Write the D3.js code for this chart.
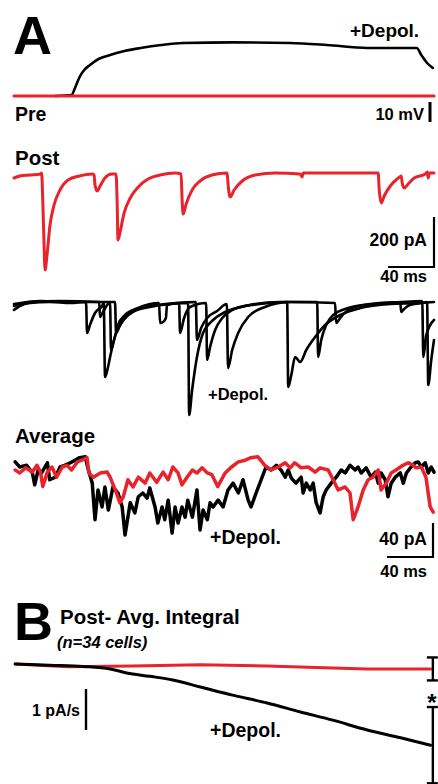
<!DOCTYPE html>
<html>
<head>
<meta charset="utf-8">
<script src="https://cdn.jsdelivr.net/npm/d3@7"></script>
<style>
  body { margin: 0; background: #fff; }
  text { font-family: "Liberation Sans", Arial, sans-serif; font-weight: bold; fill: #000; }
</style>
</head>
<body>
<div id="chart"></div>
<script>
// time in ms, pre in mV, currents in pA, integral in pA/s
var preRed = [[0,0],[365,0]];
var preBlack = [[36,0],[50,0.5],[53,4],[57,9.5],[61,13],[66,15.5],[73.5,18.5],[83.5,20.5],[96,22.5],[110,24],
  [128,25.5],[147,26.5],[190,26.8],[240,26.5],[272,25.5],[307,24],[350,24],[354,20.5],[359,16.5],[364,14]];

var postRed = [[0,-20],[5,-12],[14,-8],[23,-4],[24,0],[25,-108],[26,-268],[27,-388],[28.7,-328],[31.3,-208],
  [34.8,-128],[40,-68],[47,-28],[57,-12],[68,-4],[69.6,-8],[70.4,-48],[72.2,-72],[74.8,-52],[79,-20],[85,-4],
  [88.7,-4],[89.6,-108],[90.4,-268],[92.2,-236],[95.7,-160],[101,-100],[108,-56],[116.5,-24],[127,-8],[140,0],
  [145.2,-4],[146.1,-108],[147,-164],[149.6,-124],[154.8,-68],[161.7,-32],[172,-8],[185.2,0],[186.1,-48],
  [187.8,-96],[191.3,-68],[198.3,-32],[209.6,-8],[227,0],[248.7,-4],[250.4,-16],[251.3,0],[283.5,0],[316.5,0],
  [317.4,-68],[319.1,-120],[321.7,-92],[327,-52],[334,-20],[336.5,-12],[337.4,-40],[339.1,-60],[342.6,-44],
  [347.8,-20],[357.4,-4],[359.1,4],[360,-20],[360.9,0],[365,0]];

var postBlack1 = [[0,-32],[5,-16],[14,-4],[31,0],[49,-4],[62.6,0],[63.5,-124],[66,-92],[70.4,-44],[76.5,-16],
  [78,-4],[79.1,-300],[81.7,-260],[83.5,-220],[87.8,-136],[94.8,-72],[103.5,-40],[118,-20],[135.7,-8],[151.3,-4],
  [152.2,-452],[154.8,-352],[159,-220],[164.3,-124],[173,-72],[183.5,-40],[201,-16],[222.6,-4],[237.4,0],
  [238.3,-340],[241,-292],[244.3,-220],[248.7,-240],[254,-192],[261.7,-140],[270.4,-92],[283.5,-52],[301,-24],
  [327,-8],[353,-4],[359,0],[360,-332],[362.6,-232],[365,-152]];
var postBlack2 = [[0,-16],[14,0],[40,4],[74,0],[74.8,-60],[77.4,-40],[81.7,-8],[83.5,-4],[84.3,-192],[87,-152],
  [90.4,-92],[96.5,-52],[107.8,-24],[126,-4],[127,-84],[129.6,-80],[132,-64],[133,-12],[143.5,-4],[144.3,-124],
  [147.8,-64],[153,-20],[167,-4],[167.8,-232],[170.4,-180],[174.8,-112],[181,-64],[189.6,-32],[205,-12],[231,0],
  [263.5,0],[264.3,-220],[267,-152],[271.3,-92],[277.4,-52],[287.8,-28],[309.6,-8],[335.7,0],[354.8,4],
  [355.7,-220],[358.3,-132],[365,-72]];
var postBlack3 = [[0,-8],[22.6,4],[57.4,0],[87.8,0],[88.7,-124],[92.2,-92],[99,-52],[111,-24],[141,-4],[158,0],
  [159,-152],[162.6,-104],[167.8,-64],[176.5,-36],[185,-8],[186,-264],[189.6,-192],[194.8,-124],[203.5,-60],
  [218,-20],[240,0],[279,-4],[280,-84],[283.5,-64],[290.4,-32],[305,-12],[335.7,-4],[336.5,-40],[339,-28],
  [344,-12],[365,0]];

var avgRed = [[1,-3.5],[5,-7],[10,-1],[16,-6],[20,2],[23,-6],[25,-23],[29,-6],[33,0],[37,-12],[42,0],[46,2],
  [50,-3.5],[55,6],[59,8],[63.5,11],[65,-7],[69,-12],[75,-7],[81,-6],[83.5,-12],[88,-27],[92,-42],[95,-35],
  [99,-15],[103.5,-23.5],[108,-12],[114,-19],[118,-7],[124,-18],[129.6,-6],[134,-15],[138,0],[142.6,-7],
  [146,-21],[150.4,-12],[155,-3.5],[159,-7],[163.5,-1],[168,-7],[172,-9],[177,-23],[183.5,-7],[189,0],[195,6],
  [201,8],[206,11],[212,12],[218,2],[223.5,-3.5],[229.6,0],[235.7,5],[240,-1],[244,5],[249.6,-1],[255.7,0],
  [261.7,-6],[266,-1],[273,-3.5],[277.4,-15],[281.7,-27],[287.8,-23.5],[292,-30.6],[294.8,-62],[299,-47],
  [303.5,-27],[307.8,-15],[312,-12],[316.5,-3.5],[319,-27],[323.5,-19],[327.8,-7],[332,-3.5],[338,2],[342.6,5],
  [347,2],[349.6,-1],[354,0],[358,-12],[361.7,-47],[364.3,-53]];
var avgBlack = [[1,6],[5,0],[11,2],[16,-7],[18,-21],[21,-3.5],[24,-7],[29,5],[31,-15],[36,-12],[40,0],[44,2],
  [49,5],[53,8],[57,11],[62,12],[64,0],[68,-19],[70.4,-62],[73,-27],[76.5,-47],[79,-23.5],[82,-50.6],[86,-23.5],
  [90.4,-30.6],[94,-47],[96.5,-80],[101,-42],[105,-54],[108,-35],[112,-30.6],[115.7,-36.5],[118,-24.7],
  [122.6,-47],[125,-66],[128.7,-47],[131,-62],[134,-39],[137.4,-77.6],[140,-47],[142.6,-66],[146,-47],
  [148.7,-59],[151,-39],[155,-59],[159,-27],[161.7,-74],[164.3,-50.6],[168,-62],[170.4,-42],[173,-47],
  [177.4,-39],[181.7,-47],[186,-27],[190.4,-19],[195,-30.6],[199,-15],[203.5,-39],[206,-47],[210.4,-30.6],
  [214.8,-15],[219,0],[223.5,-3.5],[228,2],[232,-3.5],[235.7,-12],[238.3,-3.5],[241,-13],[245,-19],[249.6,-12],
  [251.3,-30.6],[254,-19],[257.4,-27],[260,-19],[262.6,-42],[266,-54],[268.7,-35],[271.3,-27],[275.7,-19],
  [280,-12],[284.3,-3.5],[287.8,-7],[292,2],[296.5,-3.5],[299,0],[301.7,-7],[306,-1],[310.4,-12],[314,-6],
  [316.5,-19],[319,-7],[322.6,-15],[325,-35],[327.8,-19],[331.3,-12],[335.7,-7],[338.3,-19],[341,-7],[345,0],
  [348.7,5],[351.3,6],[354,0],[357.4,5],[360,-7],[362.6,0],[365,-6]];

var intRed = [[1,0],[46,-0.07],[103,-0.05],[162,-0.02],[220,-0.05],[277,-0.1],[307,-0.12],[362,-0.12]];
var intBlack = [[1,0],[31,-0.03],[60,-0.06],[83.5,-0.12],[98,-0.22],[118,-0.3],[138,-0.39],[162,-0.56],
  [190,-0.76],[220,-0.95],[249,-1.17],[277,-1.37],[307,-1.61],[336,-1.8],[362,-1.98]];

var endMeans = [-0.12, -1.98];   // red, black
var endSems = [0.28, 0.93];

var panelLetters = ["A", "B"];
var traceLabels = ["Pre", "Post", "Average", "Post- Avg. Integral"];
var scaleLabels = ["10 mV", "200 pA", "40 ms", "40 pA", "40 ms", "1 pA/s"];

var red = "#e8232b";
var width = 438, height = 784;

var svg = d3.select("#chart").append("svg")
    .attr("width", width).attr("height", height);

var x = d3.scaleLinear().domain([0, 365]).range([14, 434]);
var yPre = d3.scaleLinear().domain([0, 10]).range([96, 76]);
var yPostRed = d3.scaleLinear().domain([0, -200]).range([173, 223]);
var yPostBlack = d3.scaleLinear().domain([0, -200]).range([302, 352]);
var yAvg = d3.scaleLinear().domain([0, -40]).range([467, 501]);
var yInt = d3.scaleLinear().domain([0, -1]).range([664, 705]);

function trace(data, y, color, w, curve) {
  var line = d3.line()
      .x(function(d){ return x(d[0]); })
      .y(function(d){ return y(d[1]); })
      .curve(curve || d3.curveLinear);
  svg.append("path").datum(data)
      .attr("d", line)
      .attr("fill", "none")
      .attr("stroke", color)
      .attr("stroke-width", w)
      .attr("stroke-linejoin", "round")
      .attr("stroke-linecap", "round");
}

function label(txt, px, py, size, anchor, style) {
  return svg.append("text").attr("x", px).attr("y", py)
      .attr("font-size", size + "px")
      .attr("text-anchor", anchor || "start")
      .attr("font-style", style || "normal")
      .text(txt);
}

function bar(x1, y1, x2, y2, w) {
  svg.append("line").attr("x1", x1).attr("y1", y1).attr("x2", x2).attr("y2", y2)
      .attr("stroke", "#000").attr("stroke-width", w || 2.2);
}

//Panel A - pre
label(panelLetters[0], 13, 54, 54);
label("+Depol.", 350, 36.5, 19);
trace(preBlack, yPre, "#000", 2.6, d3.curveMonotoneX);
trace(preRed, yPre, red, 3);
label(traceLabels[0], 15, 120.5, 19.5);
label(scaleLabels[0], 424, 120, 16.5, "end");
bar(430, 122, 430, 122 - (yPre(0) - yPre(10)), 3);

//Post
label(traceLabels[1], 15, 164.5, 20.5);
trace(postRed, yPostRed, red, 3, d3.curveMonotoneX);
var sbX = 434, sbY = 267;
bar(sbX, sbY + 1, sbX, sbY - (yPostRed(-200) - yPostRed(0)));
bar(sbX + 1, sbY, sbX - (x(40) - x(0)), sbY);
label(scaleLabels[1], 427, 246, 17.5, "end");
label(scaleLabels[2], 427, 281.5, 16.5, "end");

[postBlack1, postBlack2, postBlack3].forEach(function(s){
  trace(s, yPostBlack, "#000", 2.6, d3.curveMonotoneX);
});
label("+Depol.", 208, 400, 16.5);

//Average
label(traceLabels[2], 15, 443, 20.5);
trace(avgBlack, yAvg, "#000", 3.5);
trace(avgRed, yAvg, red, 3.5);
label("+Depol.", 210, 544, 19.5);
var abX = 433, abY = 557;
bar(abX, abY + 1, abX, abY - (yAvg(-40) - yAvg(0)));
bar(abX + 1, abY, abX - (x(40) - x(0)), abY);
label(scaleLabels[3], 427, 544.5, 17.5, "end");
label(scaleLabels[4], 427, 577, 16.5, "end");

//Panel B - integral
label(panelLetters[1], 14, 640, 54);
label(traceLabels[3], 60, 624, 20.5);
label("(n=34 cells)", 57, 648, 16.5, "start", "italic");
trace(intRed, yInt, red, 3);
trace(intBlack, yInt, "#000", 3, d3.curveMonotoneX);
bar(86, 730, 86, 730 - (yInt(-1) - yInt(0)), 2.4);
label(scaleLabels[5], 80, 716, 16, "end");
label("+Depol.", 210, 737, 19.5);

var ex = x(364);
endMeans.forEach(function(m, i){
  var top = yInt(m + endSems[i]), bot = yInt(m - endSems[i]);
  bar(ex, top, ex, bot, 2.4);
  bar(ex - 6, top, ex + 5, top, 2.4);
  bar(ex - 6, bot, ex + 5, bot, 2.4);
});
label("*", 432, 711, 24, "middle");
</script>
</body>
</html>
